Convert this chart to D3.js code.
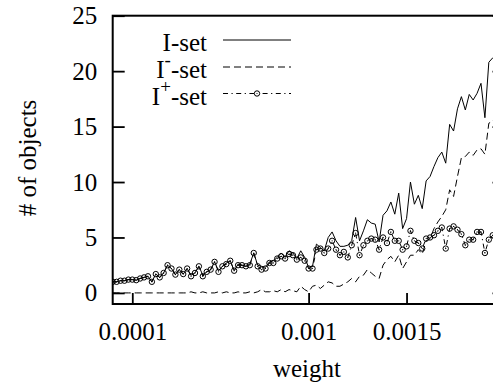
<!DOCTYPE html>
<html>
<head>
<meta charset="utf-8">
<script src="https://cdn.jsdelivr.net/npm/d3@7"></script>
<style>
  body { margin: 0; background: #fff; }
  svg { display: block; overflow: hidden; background: #fff; }
  text { font-family: 'Liberation Serif', 'Times New Roman', serif; font-size: 25px; fill: #000; }
</style>
</head>
<body>
<svg id="chart" width="493" height="385"></svg>
<script>
// weight samples, in units of 1e-5
const weightsE5 = [
  0, 2, 4, 6, 8, 10, 12, 14, 16, 18,
  20, 22, 24, 26, 28, 30, 32, 34, 36, 38,
  40, 42, 44, 46, 48, 50, 52, 54, 56, 58,
  60, 62, 64, 66, 68, 70, 72, 74, 76, 78,
  80, 82, 84, 86, 88, 90, 92, 94, 96, 98,
  100, 102, 104, 106, 108, 110, 112, 114, 116, 118,
  120, 122, 124, 126, 128, 130, 132, 134, 136, 138,
  140, 142, 144, 146, 148, 150, 152, 154, 156, 158,
  160, 162, 164, 166, 168, 170, 172, 174, 176, 178,
  180, 182, 184, 186, 188, 190, 192, 194, 196
]

const iSet = [
  1.0, 1.0, 1.1, 1.1, 1.2, 1.2, 1.15, 1.3, 1.4, 1.5,
  1.0, 1.7, 1.4, 1.8, 2.5, 2.2, 1.65, 2.1, 1.7, 2.2,
  1.6, 1.8, 2.4, 1.6, 1.9, 2.1, 2.8, 2.0, 2.4, 2.7,
  2.9, 2.0, 2.6, 2.5, 2.4, 2.6, 3.6, 2.5, 2.4, 2.3,
  2.8, 2.9, 3.2, 3.6, 3.2, 3.8, 3.6, 3.1, 3.8, 3.2,
  2.3, 2.4, 4.4, 4.1, 3.8, 5.0, 5.5, 4.7, 4.2, 4.2,
  4.3, 4.7, 6.8, 4.7, 5.6, 6.6, 6.3, 6.2, 4.6, 7.0,
  7.4, 8.2, 7.1, 9.0, 5.8, 6.7, 10.0, 8.0, 8.8, 7.6,
  10.1, 10.5, 11.4, 12.2, 12.7, 11.7, 15.2, 14.6, 16.6, 17.7,
  16.5, 17.9, 17.4, 18.0, 18.9, 15.8, 20.8, 21.2, 21.3
]

const iMinus = [
  0, 0, 0, 0, 0, 0, 0, 0, 0, 0,
  0, 0, 0, 0, 0, 0, 0, 0, 0, 0,
  0.1, 0, 0, 0.1, 0, 0, 0, 0.1, 0, 0.1,
  0, 0, 0.1, 0, 0, 0.1, 0, 0.1, 0.3, 0.1,
  0.1, 0.2, 0.1, 0.3, 0.1, 0.3, 0.2, 0.1, 0.6, 0.3,
  0.1, 0.6, 0.7, 0.4, 0.7, 1.0, 0.9, 0.6, 0.6, 0.8,
  1.0, 1.3, 1.0, 1.5, 1.6, 2.1, 1.8, 1.5, 1.3, 2.5,
  3.0, 3.3, 2.8, 3.4, 2.2, 2.8, 3.4, 3.4, 3.9, 3.5,
  4.7, 4.9, 5.8, 6.4, 6.9, 7.5, 9.3, 8.7, 10.5, 12.2,
  12.3, 12.7, 12.4, 12.9, 13.0, 12.5, 15.3, 15.5, 16.0
]

const iPlus = [
  1.0, 1.0, 1.1, 1.1, 1.2, 1.2, 1.15, 1.3, 1.4, 1.5,
  1.0, 1.7, 1.4, 1.8, 2.5, 2.2, 1.65, 2.1, 1.7, 2.2,
  1.5, 1.8, 2.4, 1.5, 1.9, 2.1, 2.8, 1.9, 2.4, 2.6,
  2.9, 2.0, 2.5, 2.5, 2.4, 2.5, 3.6, 2.4, 2.1, 2.2,
  2.7, 2.7, 3.1, 3.3, 3.1, 3.5, 3.4, 3.0, 3.2, 2.9,
  2.2, 2.2, 3.9, 4.0, 3.6, 4.0, 4.7, 3.9, 3.4, 3.7,
  3.2, 4.3, 5.4, 3.4, 4.3, 4.7, 4.9, 4.8, 3.9, 5.0,
  4.5, 5.5, 4.7, 4.7, 3.9, 4.2, 5.6, 4.7, 4.5, 4.0,
  4.9, 5.0, 5.2, 5.6, 5.9, 4.0, 5.8, 6.0, 5.7, 5.3,
  4.3, 4.8, 4.8, 5.5, 5.5, 3.6, 4.8, 5.2, 5.0
]

const xTickValues = [0.0001, 0.001, 0.0015]
const xTickLabels = ['0.0001', '0.001', '0.0015']
const yTickValues = [0, 5, 10, 15, 20, 25]
const legendNames = [['I', '', '-set'], ['I', '-', '-set'], ['I', '+', '-set']]

const svg = d3.select('#chart')
// right border sits just past the visible edge, like in the original crop
const frame = { left: 112.7, right: 504.5, top: 15.7, bottom: 304 }
const dashMinus = '7,4'
const dashPlus = '5,3.5,1.2,3.5'
let xScale, yScale

function defineScale() {
  xScale = d3.scaleLinear()
    .domain([0, 0.002])
    .range([frame.left, frame.right])
  yScale = d3.scaleLinear()
    .domain([-1, 25])
    .range([frame.bottom, frame.top])
}

function drawAxis() {
  const left = svg.append('g')
    .attr('transform', `translate(${frame.left},0)`)
    .call(d3.axisLeft(yScale).tickValues(yTickValues).tickSizeInner(-12).tickSizeOuter(0).tickPadding(15.5))
  left.select('.domain').remove()

  // mirror ticks on the right border, no labels
  const right = svg.append('g')
    .attr('transform', `translate(${frame.right},0)`)
    .call(d3.axisRight(yScale).tickValues(yTickValues).tickSizeInner(-12).tickSizeOuter(0).tickFormat(''))
  right.select('.domain').remove()

  const bottom = svg.append('g')
    .attr('transform', `translate(0,${frame.bottom})`)
    .call(d3.axisBottom(xScale).tickValues(xTickValues).tickSizeInner(-11).tickSizeOuter(0).tickPadding(18.5)
      .tickFormat((d, i) => xTickLabels[i]))
  bottom.select('.domain').remove()

  svg.selectAll('.tick line').attr('stroke', '#000').attr('stroke-width', 1.8)

  svg.append('rect')
    .attr('x', frame.left)
    .attr('y', frame.top)
    .attr('width', frame.right - frame.left)
    .attr('height', frame.bottom - frame.top)
    .attr('fill', 'none')
    .attr('stroke', '#000')
    .attr('stroke-width', 2)

  svg.append('text')
    .attr('text-anchor', 'middle')
    .attr('x', 307)
    .attr('y', 377)
    .text('weight')

  svg.append('text')
    .attr('text-anchor', 'middle')
    .attr('transform', 'translate(36,158) rotate(-90)')
    .text('# of objects')
}

function drawChart() {
  svg.append('clipPath').attr('id', 'plot-clip')
    .append('rect')
    .attr('x', frame.left).attr('y', frame.top)
    .attr('width', frame.right - frame.left).attr('height', frame.bottom - frame.top)

  const graph = svg.append('g').attr('clip-path', 'url(#plot-clip)')
  const line = d3.line()
    .x((d, i) => xScale(weightsE5[i] * 1e-5))
    .y(d => yScale(d))

  graph.append('path')
    .datum(iSet)
    .attr('d', line)
    .attr('fill', 'none')
    .attr('stroke', '#000')
    .attr('stroke-width', 1)

  graph.append('path')
    .datum(iMinus)
    .attr('d', line)
    .attr('fill', 'none')
    .attr('stroke', '#000')
    .attr('stroke-width', 1)
    .attr('stroke-dasharray', dashMinus)

  graph.append('path')
    .datum(iPlus)
    .attr('d', line)
    .attr('fill', 'none')
    .attr('stroke', '#000')
    .attr('stroke-width', 1)
    .attr('stroke-dasharray', dashPlus)

  const points = graph.selectAll('g.pt')
    .data(iPlus)
    .enter()
    .append('g')
    .attr('class', 'pt')
    .attr('transform', (d, i) => `translate(${xScale(weightsE5[i] * 1e-5)},${yScale(d)})`)
  points.append('circle').attr('r', 2.7).attr('fill', 'none').attr('stroke', '#000').attr('stroke-width', 1)
  points.append('circle').attr('r', 0.6).attr('fill', '#000')
}

function addLegends() {
  const legends = svg.append('g').attr('class', 'legends')
  const rowY = [51, 78, 104.5]
  const styles = [null, dashMinus, dashPlus]

  legendNames.forEach((parts, i) => {
    const t = legends.append('text')
      .attr('x', 207)
      .attr('y', rowY[i])
      .attr('text-anchor', 'end')
    t.append('tspan').text(parts[0])
    if (parts[1]) {
      t.append('tspan').attr('dy', -12).style('font-size', '19px').text(parts[1])
      t.append('tspan').attr('dy', 12).text(parts[2])
    } else {
      t.append('tspan').text(parts[2])
    }

    legends.append('line')
      .attr('x1', 223).attr('x2', 291)
      .attr('y1', rowY[i] - 11).attr('y2', rowY[i] - 11)
      .attr('stroke', '#000')
      .attr('stroke-width', 1)
      .attr('stroke-dasharray', styles[i])
  })

  const mark = legends.append('g').attr('transform', `translate(257,${rowY[2] - 11})`)
  mark.append('circle').attr('r', 2.7).attr('fill', '#fff').attr('stroke', '#000').attr('stroke-width', 1)
  mark.append('circle').attr('r', 0.6).attr('fill', '#000')
}

defineScale()
drawAxis()
drawChart()
addLegends()
</script>
</body>
</html>
